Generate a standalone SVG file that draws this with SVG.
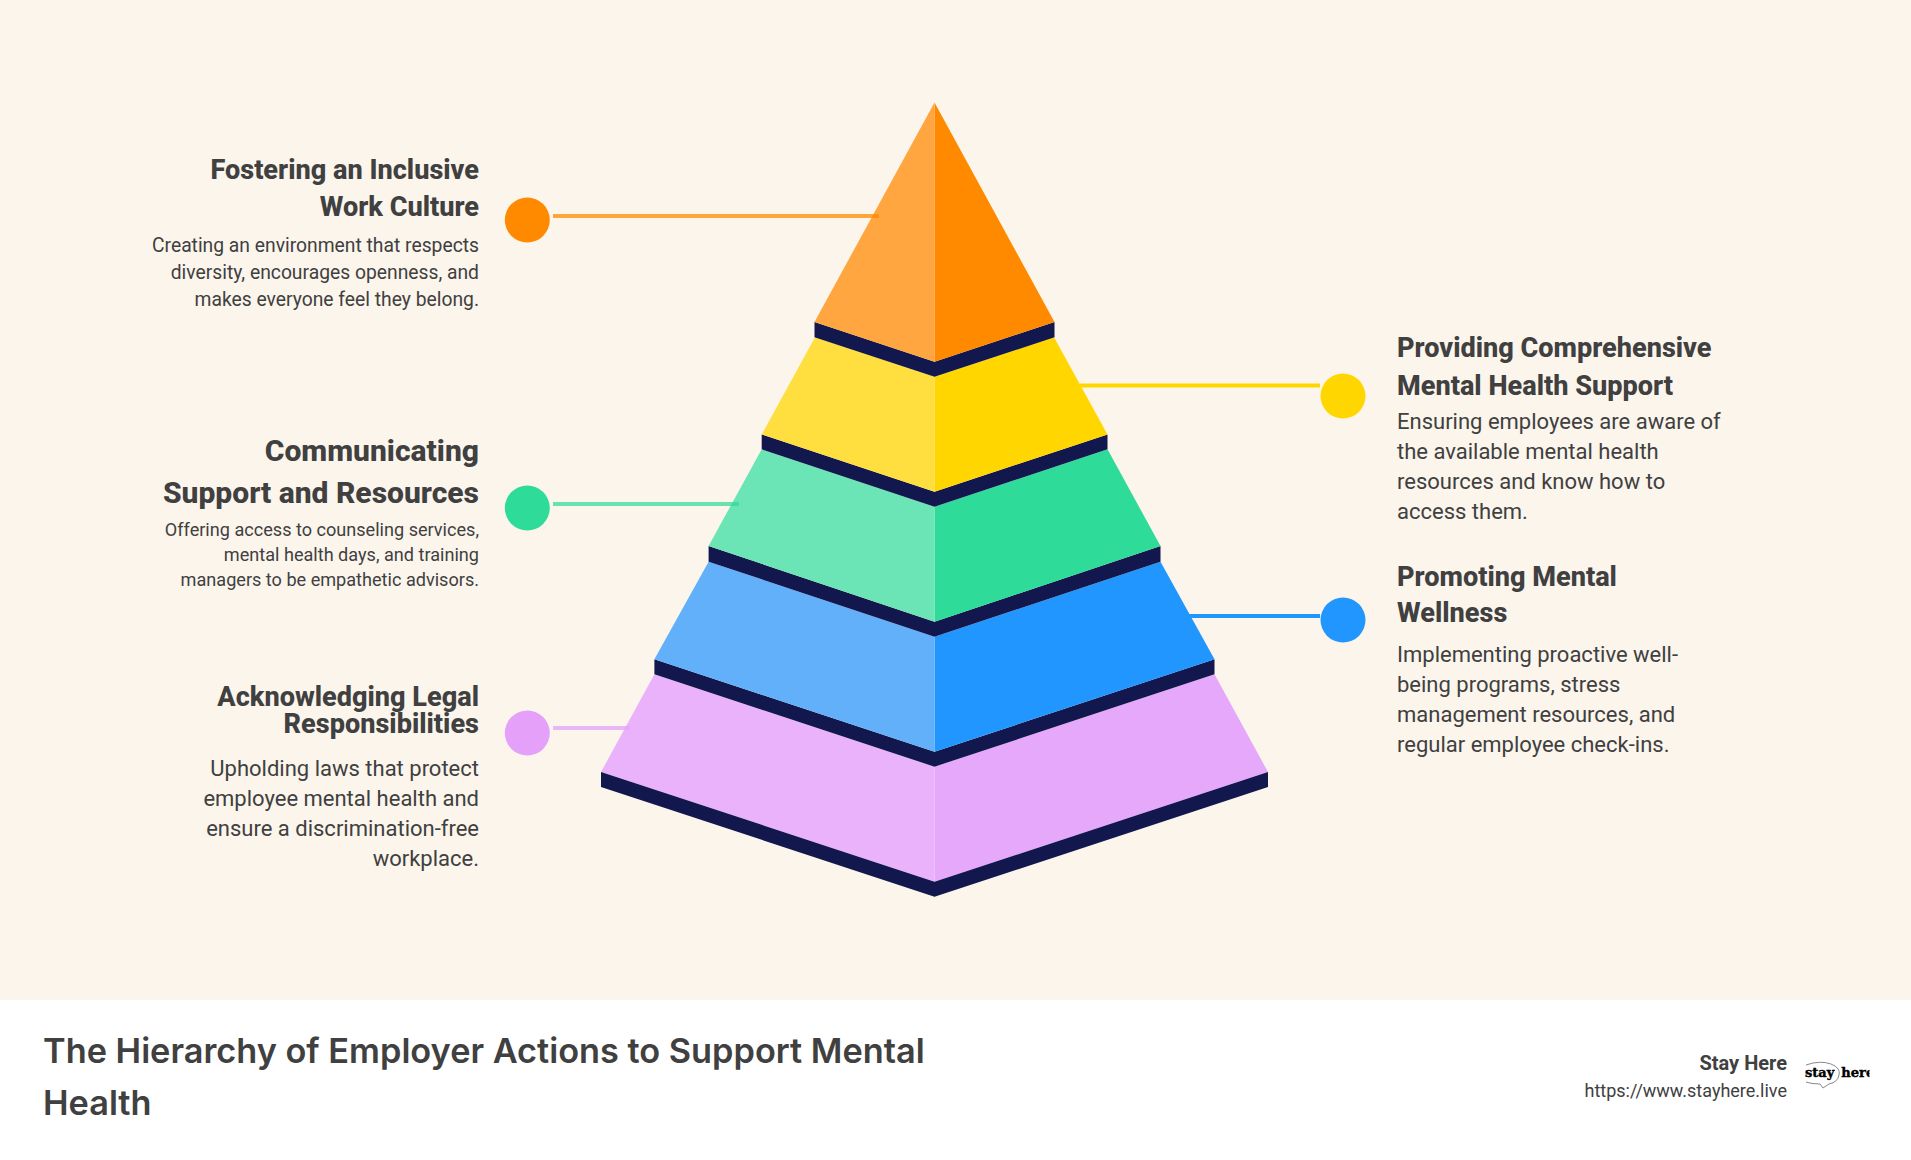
<svg xmlns="http://www.w3.org/2000/svg" width="1911" height="1160" viewBox="0 0 1911 1160">
<defs><clipPath id="logoClip"><rect x="1805" y="1055" width="64.500" height="40"/></clipPath></defs>
<style>
text{font-family:Roboto,"Liberation Sans",sans-serif;fill:#404040}
.h{font-weight:800;font-size:27.100px}
.r{text-anchor:end}
.b{font-size:19.300px}
.navy{fill:#12174d}
.lead{stroke-width:4;fill:none}
</style>
<rect width="1911" height="1000" fill="#fbf5ec"/>
<rect y="1000" width="1911" height="160" fill="#fff"/>
<g id="pyramid">
<path fill="#e5a8fa" d="M934.500 766.700V881.700L1268 772 L1214.500 674.300Z"/>
<path fill="#eab2fa" d="M934.500 766.700V881.700L601 772 L654.400 674.300Z"/>
<path class="navy" d="M601 772L934.500 881.700L1268 772V787L934.500 896.700L601 787Z"/>
<path class="navy" d="M654.400 659.300L934.500 751.700L1214.500 659.300V674.300L934.500 766.700L654.400 674.300Z"/>
<path fill="#2196ff" d="M934.500 636.700V751.700L1214.500 659.300L1160.500 561.700Z"/>
<path fill="#62b0fa" d="M934.500 636.700V751.700L654.400 659.300L708.600 561.700Z"/>
<path class="navy" d="M708.600 546L934.500 621.700L1160.500 546V561.700L934.500 636.700L708.600 561.700Z"/>
<path fill="#2edb99" d="M934.500 506.700V621.700L1160.500 546L1107.500 449.300Z"/>
<path fill="#6be5b5" d="M934.500 506.700V621.700L708.600 546L761.700 449.300Z"/>
<path class="navy" d="M761.700 434.500L934.500 491.700L1107.500 434.500V449.300L934.500 506.700L761.700 449.300Z"/>
<path fill="#ffd600" d="M934.500 376.700V491.700L1107.500 434.500L1054 337.300Z"/>
<path fill="#ffde40" d="M934.500 376.700V491.700L761.700 434.500L815 337.300Z"/>
<path class="navy" d="M814.500 322L934.500 361.700L1054.500 322V337.300L934.500 376.700L814.500 337.300Z"/>
<path fill="#ff8a00" d="M934.500 102.500V361.700L1054.500 322Z"/>
<path fill="#ffa640" d="M934.500 102.500V361.700L814.500 322Z"/>
</g>
<g id="connectors">
<line class="lead" x1="553" y1="216" x2="879" y2="216" stroke="#ff8a00" stroke-opacity=".75"/>
<line class="lead" x1="553" y1="504" x2="739" y2="504" stroke="#2edb99" stroke-opacity=".72"/>
<line class="lead" x1="553" y1="728" x2="629" y2="728" stroke="#e5a0fa" stroke-opacity=".75"/>
<line class="lead" x1="1320" y1="385.500" x2="1080" y2="385.500" stroke="#ffd600"/>
<line class="lead" x1="1320" y1="616" x2="1188" y2="616" stroke="#2196ff"/>
</g>
<g id="node-culture">
<circle cx="527.300" cy="220" r="22.500" fill="#ff8a00"/>
<text class="h r" x="479" y="179">Fostering an Inclusive</text>
<text class="h r" x="479" y="216">Work Culture</text>
<text class="b r" x="479" y="252">Creating an environment that respects</text>
<text class="b r" x="479" y="279">diversity, encourages openness, and</text>
<text class="b r" x="479" y="306">makes everyone feel they belong.</text>
</g>
<g id="node-communicating">
<circle cx="527.300" cy="508" r="22.500" fill="#2edb99"/>
<text class="h r" style="font-size:30px" x="479" y="461">Communicating</text>
<text class="h r" style="font-size:30px" x="479" y="503">Support and Resources</text>
<text class="b r" style="font-size:18.100px" x="479" y="536">Offering access to counseling services,</text>
<text class="b r" style="font-size:18.100px" x="479" y="561">mental health days, and training</text>
<text class="b r" style="font-size:18.100px" x="479" y="586">managers to be empathetic advisors.</text>
</g>
<g id="node-legal">
<circle cx="527.300" cy="733" r="22.500" fill="#e5a0fa"/>
<text class="h r" x="479" y="706">Acknowledging Legal</text>
<text class="h r" x="479" y="733">Responsibilities</text>
<text class="b r" style="font-size:22px" x="479" y="776">Upholding laws that protect</text>
<text class="b r" style="font-size:22px" x="479" y="806">employee mental health and</text>
<text class="b r" style="font-size:22px" x="479" y="836">ensure a discrimination-free</text>
<text class="b r" style="font-size:22px" x="479" y="866">workplace.</text>
</g>
<g id="node-support">
<circle cx="1343" cy="396" r="22.500" fill="#ffd600"/>
<text class="h" x="1397" y="357">Providing Comprehensive</text>
<text class="h" x="1397" y="394.500">Mental Health Support</text>
<text class="b" style="font-size:22px" x="1397" y="429">Ensuring employees are aware of</text>
<text class="b" style="font-size:22px" x="1397" y="459">the available mental health</text>
<text class="b" style="font-size:22px" x="1397" y="489">resources and know how to</text>
<text class="b" style="font-size:22px" x="1397" y="519">access them.</text>
</g>
<g id="node-wellness">
<circle cx="1343" cy="620" r="22.500" fill="#2196ff"/>
<text class="h" x="1397" y="585.500">Promoting Mental</text>
<text class="h" x="1397" y="622">Wellness</text>
<text class="b" style="font-size:22px" x="1397" y="662">Implementing proactive well-</text>
<text class="b" style="font-size:22px" x="1397" y="692">being programs, stress</text>
<text class="b" style="font-size:22px" x="1397" y="722">management resources, and</text>
<text class="b" style="font-size:22px" x="1397" y="752">regular employee check-ins.</text>
</g>
<g id="footer">
<text x="43" y="1063" style="font-family:Inter,sans-serif;font-weight:600;font-size:34.300px">The Hierarchy of Employer Actions to Support Mental</text>
<text x="43" y="1115" style="font-family:Inter,sans-serif;font-weight:600;font-size:34.300px">Health</text>
<text class="r" x="1787" y="1070" style="font-weight:700;font-size:20px">Stay Here</text>
<text class="r" x="1787" y="1097" style="font-size:18px">https://www.stayhere.live</text>
<g clip-path="url(#logoClip)">
<path d="M1806 1065Q1820 1060 1831 1064Q1841 1068 1839 1075Q1838 1082 1829 1084L1823 1088L1820 1084Q1811 1084 1806 1082" fill="none" stroke="#888" stroke-width="1"/>
<text x="1805" y="1077" style="font-family:'DejaVu Serif',serif;font-weight:700;font-size:13px;fill:#000;stroke:#000;stroke-width:.4">stay<tspan dx="7">here</tspan></text>
</g>
</g>
</svg>
